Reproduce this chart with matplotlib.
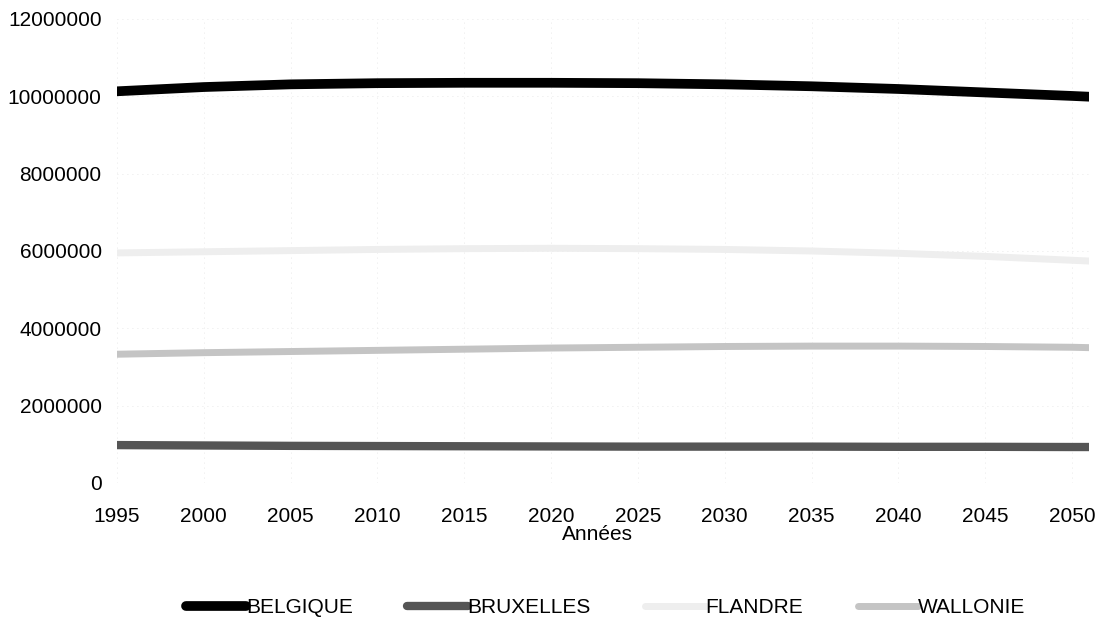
import matplotlib.pyplot as plt
from matplotlib.ticker import FuncFormatter

plt.rcParams['font.family'] = ['Liberation Sans', 'DejaVu Sans']

years      = [1995, 2000, 2005, 2010, 2015, 2020, 2025, 2030, 2035, 2040, 2045, 2050, 2051]
belgique   = [10130000, 10240000, 10310000, 10340000, 10350000, 10350000, 10340000, 10310000, 10260000, 10190000, 10100000, 10010000, 9990000]
bruxelles  = [980000, 970000, 960000, 955000, 950000, 945000, 940000, 940000, 940000, 935000, 935000, 930000, 930000]
flandre    = [5950000, 5980000, 6010000, 6040000, 6060000, 6070000, 6060000, 6040000, 6000000, 5940000, 5860000, 5760000, 5740000]
wallonie   = [3330000, 3370000, 3400000, 3430000, 3460000, 3490000, 3510000, 3530000, 3540000, 3540000, 3530000, 3510000, 3500000]

series = [
    ('BELGIQUE',  belgique,  '#000000', 7),
    ('BRUXELLES', bruxelles, '#555555', 6),
    ('FLANDRE',   flandre,   '#eeeeee', 5),
    ('WALLONIE',  wallonie,  '#c4c4c4', 5),
]

fig = plt.figure(figsize=(11.05, 6.27), dpi=100)
ax = fig.add_axes([0.1059, 0.2297, 0.88, 0.740])

for name, vals, col, lw in series:
    ax.plot(years, vals, color=col, lw=lw, label=name, solid_capstyle='round')

ax.set_xlim(1995, 2051)
ax.set_ylim(0, 12000000)
ax.set_xticks(range(1995, 2051, 5))
ax.set_yticks(range(0, 12000001, 2000000))
ax.yaxis.set_major_formatter(FuncFormatter(lambda v, p: f'{int(v)}'))
ax.tick_params(length=0, labelsize=15)
ax.tick_params(axis='y', pad=11)
ax.tick_params(axis='x', pad=17)
ax.set_xlabel('Années', fontsize=15, va='center')
ax.xaxis.set_label_coords(0.494, -0.112)
ax.grid(True, color='#e2e2e2', lw=0.6, ls=(0, (1, 5)))
for s in ax.spines.values():
    s.set_visible(False)

fig.legend(loc='center', bbox_to_anchor=(0.548, 0.031), ncol=4, frameon=False,
           fontsize=15, handlelength=2.9, handletextpad=0.0, columnspacing=2.6)

plt.savefig('out.png', dpi=100)
